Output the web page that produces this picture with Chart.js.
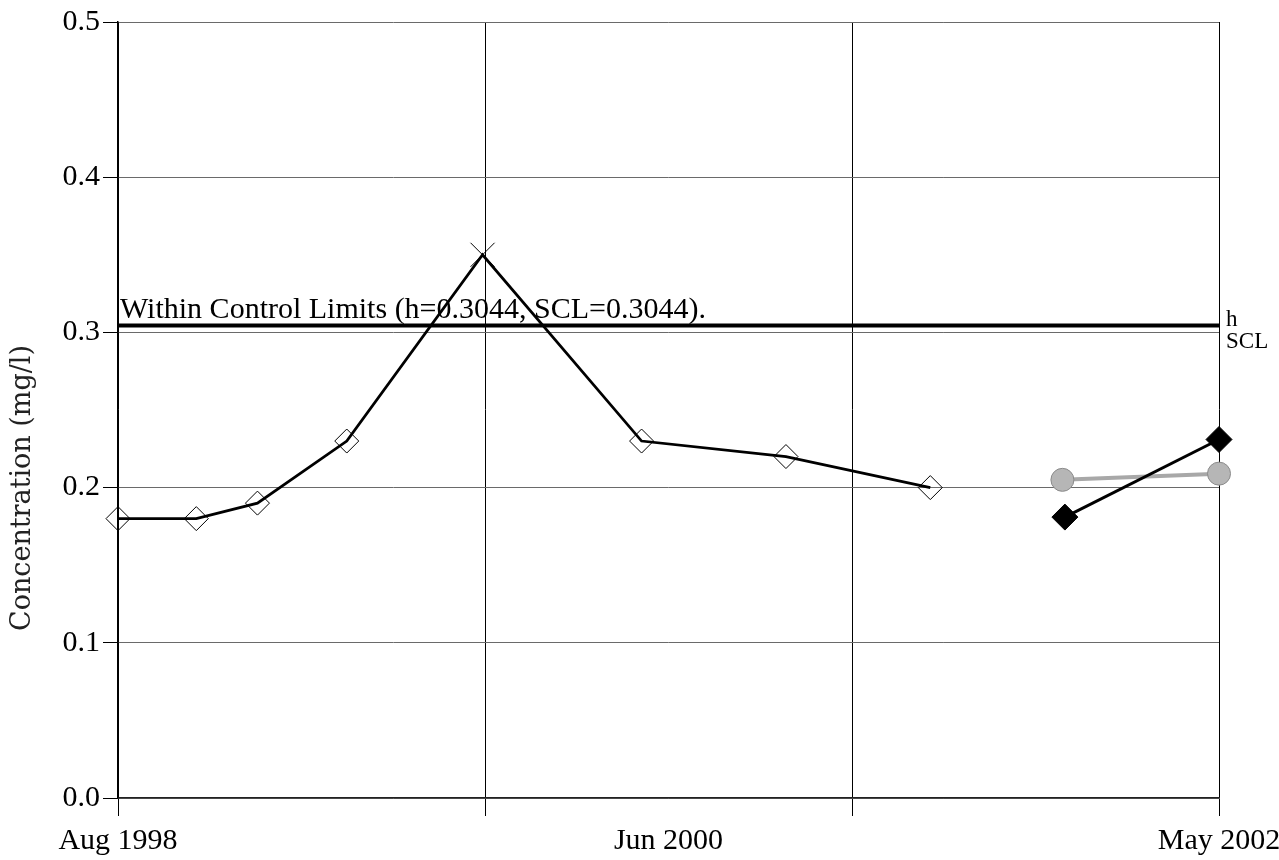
<!DOCTYPE html>
<html>
<head>
<meta charset="utf-8">
<script src="https://cdn.jsdelivr.net/npm/chart.js@4"></script>
<style>
  body { margin: 0; background: #fff; }
  #wrap { width: 1279px; height: 860px; }
</style>
</head>
<body>
<div id="wrap"><canvas id="myChart" width="1279" height="860"></canvas></div>
<script>
// months counted from Aug 1998
const openMonths = [0, 3.2, 5.7, 9.35, 14.9, 21.4, 27.3, 33.2];
const openValues = [0.18, 0.18, 0.19, 0.23, 0.35, 0.23, 0.22, 0.20];
const grayMonths = [38.6, 45];
const grayValues = [0.205, 0.209];
const blackMonths = [38.7, 45];
const blackValues = [0.181, 0.231];
const hValue = 0.3044;
const sclValue = 0.3044;
const gridMonths = [0, 15, 30, 45];
const tickMonths = [0, 22.5, 45];
const tickLabels = ['Aug 1998', 'Jun 2000', 'May 2002'];
const yTicks = [0, 0.1, 0.2, 0.3, 0.4, 0.5];

const toPoints = (xs, ys) => xs.map((x, i) => ({ x: x, y: ys[i] }));
const serif = '"Liberation Serif", "Times New Roman", serif';

const textPlugin = {
  id: 'textPlugin',
  afterDatasetsDraw(chart) {
    const ctx = chart.ctx;
    const area = chart.chartArea;
    const y = chart.scales.y;
    const yh = y.getPixelForValue(hValue);
    const ys = y.getPixelForValue(sclValue);
    ctx.save();
    ctx.fillStyle = '#000';
    ctx.textAlign = 'left';
    ctx.textBaseline = 'alphabetic';
    ctx.font = '30px ' + serif;
    ctx.fillText('Within Control Limits (h=' + hValue + ', SCL=' + sclValue + ').', area.left + 2, yh - 8);
    ctx.font = '23px ' + serif;
    ctx.fillText('h', area.right + 7, yh);
    ctx.fillText('SCL', area.right + 7, ys + 22);
    ctx.restore();

    ctx.save();
    ctx.translate(23, 488);
    ctx.rotate(-Math.PI / 2);
    ctx.font = '27px "DejaVu Serif", serif';
    ctx.fillStyle = '#222';
    ctx.textAlign = 'center';
    ctx.textBaseline = 'middle';
    ctx.fillText('Concentration (mg/l)', 0, 0);
    ctx.restore();
  }
};

const ctx = document.getElementById('myChart');
const myChart = new Chart(ctx, {
  type: 'line',
  data: {
    datasets: [
      {
        label: 'black',
        data: toPoints(blackMonths, blackValues),
        borderColor: '#000',
        borderWidth: 3,
        pointStyle: 'rectRot',
        pointRadius: 13,
        pointBackgroundColor: '#000',
        pointBorderColor: '#000',
        pointBorderWidth: 1,
        clip: false,
        order: 1
      },
      {
        label: 'gray',
        data: toPoints(grayMonths, grayValues),
        borderColor: '#a8a8a8',
        borderWidth: 4,
        pointStyle: 'circle',
        pointRadius: 11.5,
        pointBackgroundColor: '#b6b6b6',
        pointBorderColor: '#8a8a8a',
        pointBorderWidth: 1,
        clip: false,
        order: 2
      },
      {
        label: 'open',
        data: toPoints(openMonths, openValues),
        borderColor: '#000',
        borderWidth: 2.8,
        pointStyle: openValues.map((v, i) => i === 4 ? 'crossRot' : 'rectRot'),
        pointRadius: openValues.map((v, i) => i === 4 ? 17 : 12),
        pointBackgroundColor: 'rgba(0,0,0,0)',
        pointBorderColor: '#000',
        pointBorderWidth: 1,
        clip: false,
        order: 3
      },
      {
        label: 'h',
        data: toPoints([0, 45], [hValue, hValue]),
        borderColor: '#000',
        borderWidth: 4,
        pointRadius: 0,
        clip: false,
        order: 4
      }
    ]
  },
  options: {
    responsive: false,
    animation: false,
    devicePixelRatio: 1,
    layout: { padding: { top: 22, right: 60, left: 0, bottom: 0 } },
    plugins: { legend: { display: false }, tooltip: { enabled: false } },
    elements: { line: { tension: 0 } },
    scales: {
      x: {
        type: 'linear',
        min: 0,
        max: 45,
        afterBuildTicks: (scale) => {
          scale.ticks = gridMonths.concat([22.5]).sort((a, b) => a - b).map(v => ({ value: v }));
        },
        afterFit: (scale) => {
          scale.height = 62;
          scale.paddingLeft = 0;
          scale.paddingRight = 0;
        },
        border: { color: '#222', width: 1.5 },
        grid: {
          color: (c) => (c.tick && gridMonths.includes(c.tick.value)) ? '#000' : 'rgba(0,0,0,0)',
          lineWidth: 1,
          tickLength: 18,
          drawOnChartArea: true
        },
        ticks: {
          autoSkip: false,
          maxRotation: 0,
          padding: 7,
          color: '#000',
          font: { family: serif, size: 30 },
          callback: (v) => {
            const i = tickMonths.indexOf(v);
            return i >= 0 ? tickLabels[i] : '';
          }
        }
      },
      y: {
        min: 0,
        max: 0.5,
        afterBuildTicks: (scale) => {
          scale.ticks = yTicks.map(v => ({ value: v }));
        },
        afterFit: (scale) => { scale.width = 118; },
        border: { color: '#000', width: 1.5 },
        grid: {
          color: '#6a6a6a',
          tickColor: '#000',
          lineWidth: 1,
          tickLength: 15
        },
        ticks: {
          padding: 3,
          color: '#000',
          font: { family: serif, size: 30 },
          callback: (v) => v.toFixed(1)
        }
      }
    }
  },
  plugins: [textPlugin]
});
</script>
</body>
</html>
